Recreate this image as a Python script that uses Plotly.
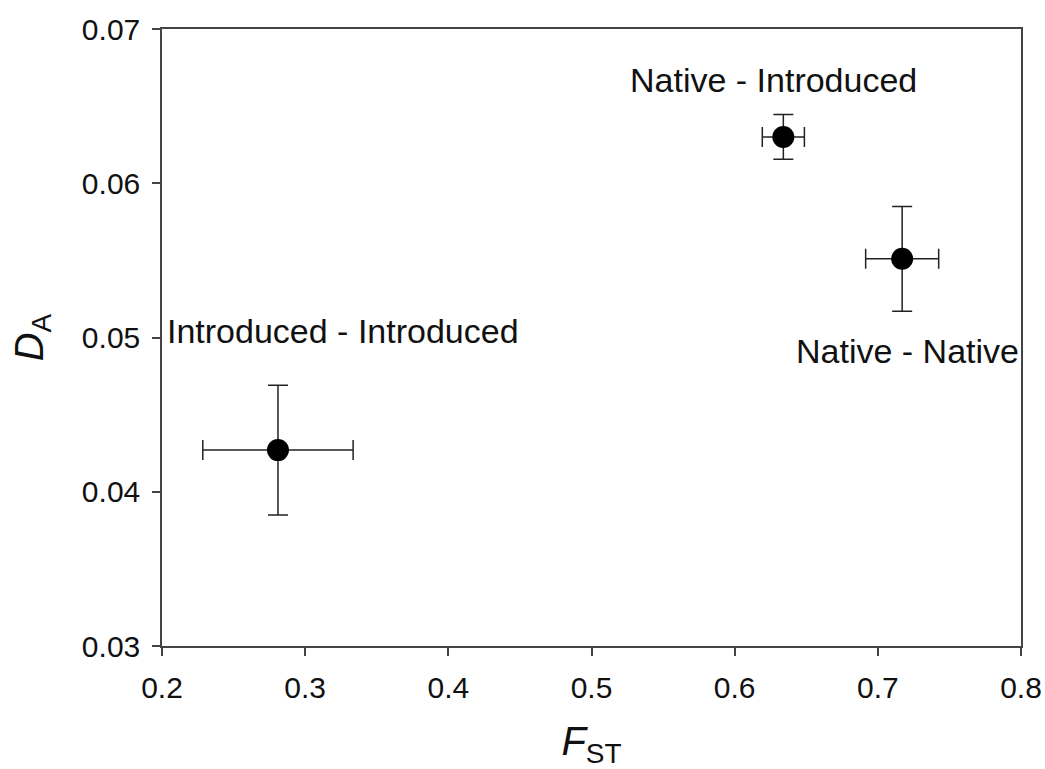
import plotly.graph_objects as go

groups = ["Introduced - Introduced", "Native - Introduced", "Native - Native"]
fst = [0.281, 0.634, 0.717]
fst_err = [0.0525, 0.0147, 0.0255]
da = [0.0427, 0.0630, 0.0551]
da_err = [0.0042, 0.00145, 0.0034]

label_x = [0.3265, 0.6274, 0.7205]
label_y = [0.0504, 0.0667, 0.0491]

x_ticks = [0.2, 0.3, 0.4, 0.5, 0.6, 0.7, 0.8]
x_ticktext = ["0.2", "0.3", "0.4", "0.5", "0.6", "0.7", "0.8"]
y_ticks = [0.03, 0.04, 0.05, 0.06, 0.07]
y_ticktext = ["0.03", "0.04", "0.05", "0.06", "0.07"]

FONT = "Liberation Sans, Arial, sans-serif"

fig = go.Figure()
fig.add_trace(go.Scatter(
    x=fst, y=da, mode="markers",
    marker=dict(color="black", size=22),
    error_x=dict(type="data", array=fst_err, color="#222", thickness=1.5, width=10),
    error_y=dict(type="data", array=da_err, color="#222", thickness=1.5, width=10),
    showlegend=False, hoverinfo="skip",
))

for g, lx, ly in zip(groups, label_x, label_y):
    fig.add_annotation(x=lx, y=ly, xref="x", yref="y", text=g, showarrow=False,
                       font=dict(family=FONT, size=34, color="#111"))

axis_common = dict(showgrid=False, zeroline=False, showline=True, linecolor="#444",
                   linewidth=1.5, mirror=True, ticks="outside", ticklen=8,
                   tickwidth=1.5, tickcolor="#444", automargin=False,
                   tickfont=dict(family=FONT, size=30, color="#111"))

fig.update_xaxes(range=[0.2, 0.8], tickvals=x_ticks, ticktext=x_ticktext,
                 ticklabelstandoff=6,
                 title=dict(text="<i>F</i><sub>ST</sub>", standoff=24,
                            font=dict(family=FONT, size=40, color="#111")),
                 **axis_common)
fig.update_yaxes(range=[0.03, 0.07], tickvals=y_ticks, ticktext=y_ticktext,
                 ticklabelstandoff=6,
                 title=dict(text="<i>D</i><sub>A</sub>", standoff=26,
                            font=dict(family=FONT, size=40, color="#111")),
                 **axis_common)

fig.update_layout(width=1045, height=769, margin=dict(l=162, r=24, t=29, b=123),
                  paper_bgcolor="white", plot_bgcolor="white")

fig.write_html("out.html")
